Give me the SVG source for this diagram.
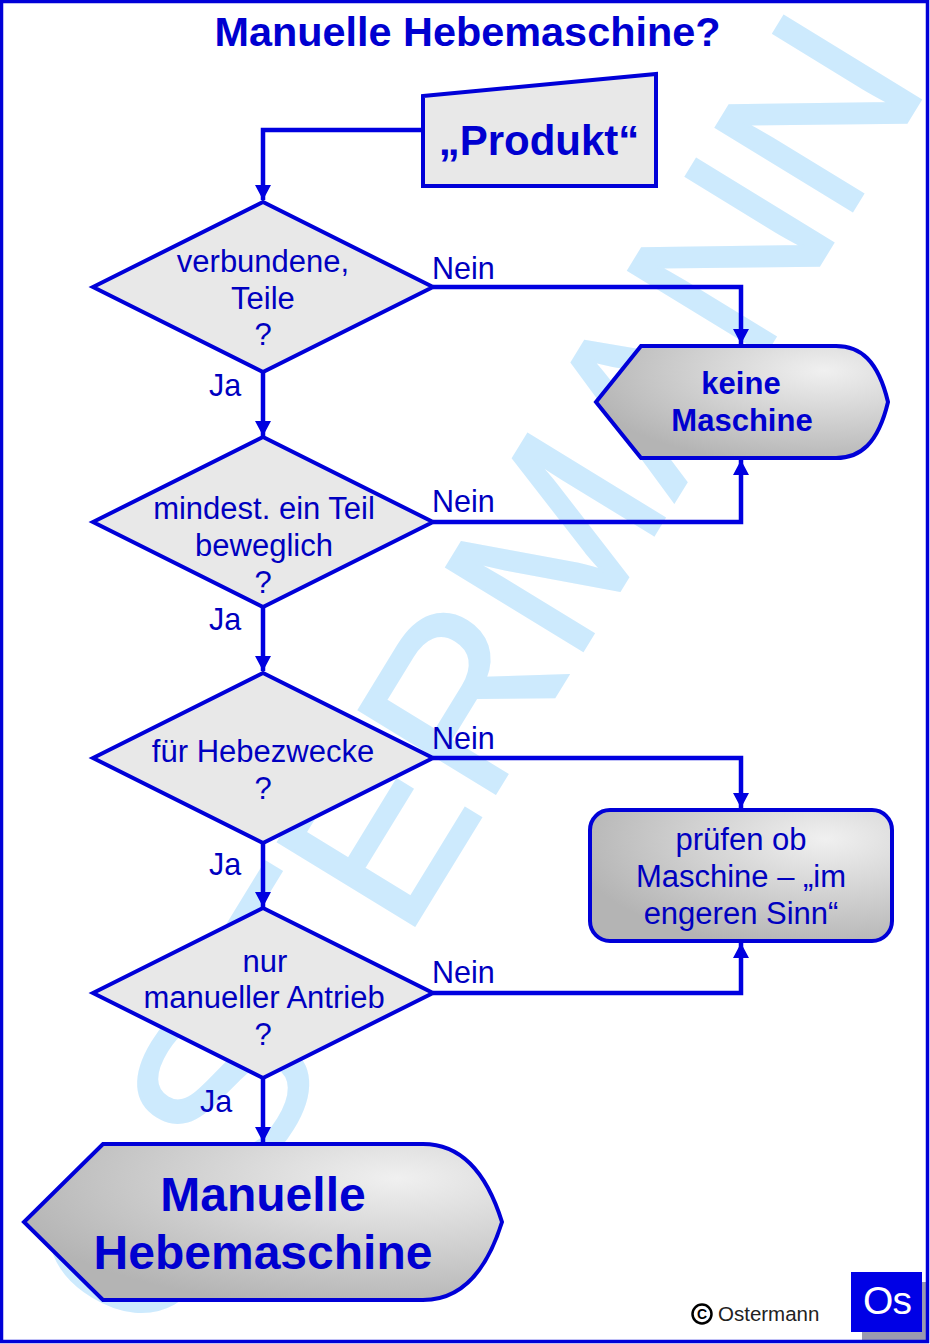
<svg xmlns="http://www.w3.org/2000/svg" width="930" height="1344" viewBox="0 0 930 1344">
<style>
text{font-family:"Liberation Sans",Arial,sans-serif;fill:#0000c0;text-anchor:middle}
.s{fill:#e8e8e8;stroke:#0000d8;stroke-width:4}
.g{fill:url(#gr);stroke:#0000d8;stroke-width:4}
.q{font-size:31px}
.l{font-size:30.5px;text-anchor:start}
.c{fill:none;stroke:#0000e0;stroke-width:4.5;marker-end:url(#a)}
.t{fill:#0000d0;font-weight:bold}
</style>
<defs>
<radialGradient id="gr" cx="0.78" cy="0.22" r="0.85">
<stop offset="0" stop-color="#f0f0f0"/><stop offset="0.55" stop-color="#cfcfcf"/><stop offset="1" stop-color="#b4b4b4"/>
</radialGradient>
<marker id="a" markerUnits="userSpaceOnUse" markerWidth="16" markerHeight="16" refX="15" refY="8" orient="auto">
<path d="M0 0L15 8L0 16Z" fill="#0000e0"/>
</marker>
</defs>
<rect width="930" height="1344" fill="#fff"/>
<text id="watermark" transform="translate(930,84) rotate(-58.5)" font-size="232" stroke="#cdeafd" stroke-width="3" style="fill:#cdeafd;text-anchor:end">OSTERMANN</text>
<g id="logo-shadow"><rect x="862" y="1282" width="64" height="58" fill="#9a9ab0"/></g>
<rect x="1.5" y="1.5" width="926" height="1340" fill="none" stroke="#0000d8" stroke-width="3.5"/>
<g id="title"><text x="467.500" y="46" font-size="41.400" class="t">Manuelle Hebemaschine?</text></g>
<g id="connectors">
<path class="c" d="M423 130H263V200"/>
<path class="c" d="M433 287H741V344"/>
<path class="c" d="M263 371V436"/>
<path class="c" d="M433 522H741V460"/>
<path class="c" d="M263 607V671"/>
<path class="c" d="M433 758H741V808"/>
<path class="c" d="M263 843V907"/>
<path class="c" d="M433 993H741V943"/>
<path class="c" d="M263 1078V1142"/>
</g>
<g id="edge-labels">
<text class="l" x="432" y="279">Nein</text>
<text class="l" x="432" y="512">Nein</text>
<text class="l" x="432" y="749">Nein</text>
<text class="l" x="432" y="983">Nein</text>
<text class="l" x="209" y="396">Ja</text>
<text class="l" x="209" y="630">Ja</text>
<text class="l" x="209" y="875">Ja</text>
<text class="l" x="200" y="1112">Ja</text>
</g>
<g id="produkt"><path class="s" d="M423 96L656 74V186H423Z"/><text x="539" y="155" font-size="42" class="t">„Produkt“</text></g>
<g id="d1"><path class="s" d="M93 287L263 202L433 287L263 372Z"/><text class="q" x="263" y="272">verbundene,</text><text class="q" x="263" y="309">Teile</text><text class="q" x="263" y="345">?</text></g>
<g id="d2"><path class="s" d="M93 522L263 437L433 522L263 607Z"/><text class="q" x="264" y="519">mindest. ein Teil</text><text class="q" x="264" y="556">beweglich</text><text class="q" x="263" y="593">?</text></g>
<g id="d3"><path class="s" d="M93 758L263 673L433 758L263 843Z"/><text class="q" x="263" y="762">für Hebezwecke</text><text class="q" x="263" y="799">?</text></g>
<g id="d4"><path class="s" d="M93 993L263 908L433 993L263 1078Z"/><text class="q" x="265" y="972">nur</text><text class="q" x="264" y="1008">manueller Antrieb</text><text class="q" x="263" y="1045">?</text></g>
<g id="keine"><path class="g" d="M641 346H836C860 346 878 360 888 402C878 444 860 458 836 458H641L596 402Z"/><text x="741" y="394" font-size="31" class="t">keine</text><text x="742" y="431" font-size="31" class="t">Maschine</text></g>
<g id="pruefen"><rect class="g" x="590" y="810" width="302" height="131" rx="20"/><text class="q" x="741" y="850">prüfen ob</text><text class="q" x="741" y="887">Maschine – „im</text><text class="q" x="741" y="924">engeren Sinn“</text></g>
<g id="manuelle"><path class="g" d="M103 1144H423C450 1144 482 1158 502 1222C482 1286 450 1300 423 1300H103L24 1222Z"/><text x="263" y="1211" font-size="48" class="t">Manuelle</text><text x="263" y="1269" font-size="48" class="t">Hebemaschine</text></g>
<g id="copyright">
<circle cx="702" cy="1314" r="9.500" fill="none" stroke="#000" stroke-width="2.500"/>
<text x="702" y="1319" font-size="14" style="fill:#000;font-weight:bold">C</text>
<text x="718" y="1321" font-size="20.500" style="fill:#222;text-anchor:start">Ostermann</text>
</g>
<g id="logo">
<rect x="851" y="1272" width="71" height="60" fill="#0000e6"/>
<text x="887" y="1314" font-size="39" style="fill:#fff;letter-spacing:-1px">Os</text>
</g>
</svg>
